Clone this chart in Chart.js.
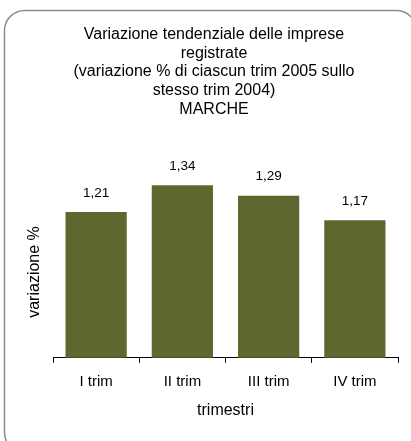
<!DOCTYPE html>
<html>
<head>
<meta charset="utf-8">
<script src="https://cdn.jsdelivr.net/npm/chart.js@4/dist/chart.umd.min.js"></script>
<style>
  html, body { margin: 0; padding: 0; background: #ffffff; }
  #wrap { width: 411px; height: 441px; position: relative; }
</style>
</head>
<body>
<div id="wrap"><canvas id="c" width="411" height="441"></canvas></div>
<script>
const categories = ["I trim", "II trim", "III trim", "IV trim"];
const values = [1.21, 1.34, 1.29, 1.17];
const titleLines = [
  "Variazione tendenziale delle imprese",
  "registrate",
  "(variazione % di ciascun trim 2005 sullo",
  "stesso trim 2004)",
  "MARCHE"
];
const yAxisTitle = "variazione %";
const xAxisTitle = "trimestri";

const FONT = "'Liberation Sans', Arial, sans-serif";

const frame = {
  id: 'frame',
  beforeDraw(chart) {
    const ctx = chart.ctx;
    const x = 4.5, y = 10.5, w = 412, h = 442, r = 20;
    ctx.save();
    ctx.fillStyle = '#ffffff';
    ctx.fillRect(0, 0, chart.width, chart.height);
    ctx.beginPath();
    ctx.moveTo(x + r, y);
    ctx.lineTo(x + w - r, y);
    ctx.arcTo(x + w, y, x + w, y + r, r);
    ctx.lineTo(x + w, y + h - r);
    ctx.arcTo(x + w, y + h, x + w - r, y + h, r);
    ctx.lineTo(x + r, y + h);
    ctx.arcTo(x, y + h, x, y + h - r, r);
    ctx.lineTo(x, y + r);
    ctx.arcTo(x, y, x + r, y, r);
    ctx.closePath();
    ctx.strokeStyle = '#8c8c8c';
    ctx.lineWidth = 1.5;
    ctx.stroke();
    ctx.restore();
  }
};

const texts = {
  id: 'texts',
  afterDatasetsDraw(chart) {
    const ctx = chart.ctx;
    const meta = chart.getDatasetMeta(0);
    ctx.save();
    ctx.fillStyle = '#000000';
    ctx.textAlign = 'center';
    ctx.textBaseline = 'middle';
    // title
    ctx.font = "16px " + FONT;
    titleLines.forEach((line, i) => {
      ctx.fillText(line, 214, 34.5 + 18.75 * i);
    });
    // value labels
    ctx.font = "13.5px " + FONT;
    meta.data.forEach((bar, i) => {
      const txt = values[i].toFixed(2).replace('.', ',');
      ctx.fillText(txt, bar.x, bar.y - 19);
    });
    // y-axis title
    ctx.translate(35, 272);
    ctx.rotate(-Math.PI / 2);
    ctx.font = "16px " + FONT;
    ctx.fillText(yAxisTitle, 0, 0);
    ctx.restore();
  }
};

new Chart(document.getElementById('c'), {
  type: 'bar',
  data: {
    labels: categories,
    datasets: [{
      data: values,
      backgroundColor: '#5e682e',
      borderWidth: 0,
      categoryPercentage: 1.0,
      barPercentage: 0.71
    }]
  },
  options: {
    responsive: false,
    animation: false,
    events: [],
    layout: { padding: { left: 53, right: 13, top: 132, bottom: 21 } },
    plugins: {
      legend: { display: false },
      tooltip: { enabled: false },
      title: { display: false }
    },
    scales: {
      y: {
        display: false,
        min: 0.5,
        max: 1.6
      },
      x: {
        border: { display: true, color: '#000000', width: 1 },
        grid: {
          display: true,
          drawOnChartArea: false,
          drawTicks: true,
          tickLength: 5,
          color: '#000000',
          offset: true
        },
        ticks: {
          color: '#000000',
          font: { family: FONT, size: 15 },
          padding: 10
        },
        title: {
          display: true,
          text: xAxisTitle,
          color: '#000000',
          font: { family: FONT, size: 16 },
          padding: { top: 0, bottom: 0 }
        }
      }
    }
  },
  plugins: [frame, texts]
});
</script>
</body>
</html>
